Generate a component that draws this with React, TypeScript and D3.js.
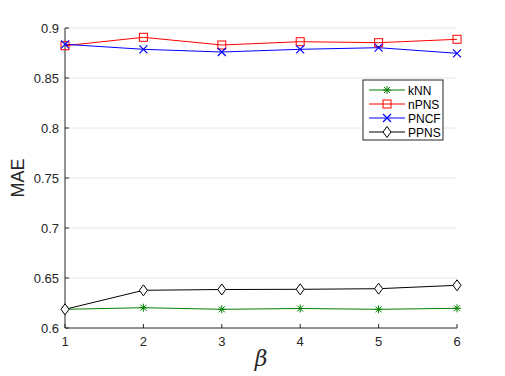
import React, { useEffect, useRef } from 'react'
import * as d3 from 'd3'

const betas = [1, 2, 3, 4, 5, 6]
const knn = [0.6187, 0.6203, 0.6187, 0.6195, 0.6187, 0.6197]
const npns = [0.8823, 0.8907, 0.883, 0.8863, 0.8853, 0.8887]
const pncf = [0.8837, 0.8787, 0.876, 0.8787, 0.8803, 0.8747]
const ppns = [0.6187, 0.6377, 0.6385, 0.6387, 0.6393, 0.6427]
const yTicks = [0.6, 0.65, 0.7, 0.75, 0.8, 0.85, 0.9]
const yTickLabels = ['0.6', '0.65', '0.7', '0.75', '0.8', '0.85', '0.9']

const series = [
  { name: 'kNN', values: knn, color: '#008000', marker: 'star' },
  { name: 'nPNS', values: npns, color: '#ff0000', marker: 'square' },
  { name: 'PNCF', values: pncf, color: '#0000ff', marker: 'x' },
  { name: 'PPNS', values: ppns, color: '#000000', marker: 'diamond' },
]

const W = 505
const H = 376

function drawMarker(g: any, type: string, x: number, y: number, color: string) {
  if (type === 'square') {
    g.append('rect').attr('x', x - 4).attr('y', y - 4).attr('width', 8).attr('height', 8)
      .attr('fill', 'none').attr('stroke', color).attr('stroke-width', 1)
  } else if (type === 'x') {
    g.append('path').attr('d', `M${x - 4},${y - 4}L${x + 4},${y + 4}M${x - 4},${y + 4}L${x + 4},${y - 4}`)
      .attr('stroke', color).attr('stroke-width', 1.2)
  } else if (type === 'diamond') {
    g.append('path').attr('d', `M${x},${y - 5.5}L${x + 4},${y}L${x},${y + 5.5}L${x - 4},${y}Z`)
      .attr('fill', 'white').attr('stroke', color).attr('stroke-width', 1)
  } else {
    g.append('path').attr('d', `M${x - 4},${y}L${x + 4},${y}M${x},${y - 4}L${x},${y + 4}M${x - 3},${y - 3}L${x + 3},${y + 3}M${x - 3},${y + 3}L${x + 3},${y - 3}`)
      .attr('stroke', color).attr('stroke-width', 1)
  }
}

export default function App() {
  const svgRef = useRef<SVGSVGElement>(null)

  useEffect(() => {
    const svg = d3.select(svgRef.current)
    svg.selectAll('*').remove()

    const x = d3.scaleLinear().domain([1, 6]).range([65, 457])
    const y = d3.scaleLinear().domain([0.6, 0.9]).range([328, 28])
    const font = 'Liberation Sans, Arial, sans-serif'

    // grid
    svg.append('g').selectAll('line').data(yTicks.slice(1)).enter().append('line')
      .attr('x1', x(1)).attr('x2', x(6))
      .attr('y1', d => y(d)).attr('y2', d => y(d))
      .attr('stroke', '#e6e6e6').attr('stroke-width', 1)

    // axes
    svg.append('line').attr('x1', x(1)).attr('x2', x(6)).attr('y1', y(0.6)).attr('y2', y(0.6))
      .attr('stroke', '#262626').attr('stroke-width', 1)
    svg.append('line').attr('x1', x(1)).attr('x2', x(1)).attr('y1', y(0.6)).attr('y2', y(0.9))
      .attr('stroke', '#262626').attr('stroke-width', 1)

    svg.append('g').selectAll('line').data(betas).enter().append('line')
      .attr('x1', d => x(d)).attr('x2', d => x(d))
      .attr('y1', y(0.6)).attr('y2', y(0.6) - 4)
      .attr('stroke', '#262626')
    svg.append('g').selectAll('line').data(yTicks).enter().append('line')
      .attr('x1', x(1)).attr('x2', x(1) + 4)
      .attr('y1', d => y(d)).attr('y2', d => y(d))
      .attr('stroke', '#262626')

    svg.append('g').selectAll('text').data(betas).enter().append('text')
      .attr('x', d => x(d)).attr('y', y(0.6) + 18)
      .attr('text-anchor', 'middle').attr('font-family', font).attr('font-size', 13)
      .attr('fill', '#262626').text(d => d)
    svg.append('g').selectAll('text').data(yTicks).enter().append('text')
      .attr('x', x(1) - 6).attr('y', d => y(d) + 4.5)
      .attr('text-anchor', 'end').attr('font-family', font).attr('font-size', 13)
      .attr('fill', '#262626').text((d, i) => yTickLabels[i])

    svg.append('text').attr('transform', `translate(24,${(y(0.6) + y(0.9)) / 2}) rotate(-90)`)
      .attr('text-anchor', 'middle').attr('font-family', font).attr('font-size', 18)
      .attr('fill', '#262626').text('MAE')
    svg.append('text').attr('x', (x(1) + x(6)) / 2).attr('y', 366)
      .attr('text-anchor', 'middle').attr('font-family', 'DejaVu Serif, serif').attr('font-style', 'italic')
      .attr('font-size', 22).attr('fill', '#262626').text('β')

    const line = d3.line<number>().x((d, i) => x(betas[i])).y(d => y(d))
    series.forEach(s => {
      svg.append('path').datum(s.values).attr('d', line).attr('fill', 'none')
        .attr('stroke', s.color).attr('stroke-width', 1)
    })
    series.forEach(s => {
      const g = svg.append('g')
      s.values.forEach((v, i) => drawMarker(g, s.marker, x(betas[i]), y(v), s.color))
    })

    // legend
    const lg = svg.append('g').attr('transform', 'translate(363,80)')
    lg.append('rect').attr('width', 80).attr('height', 60).attr('fill', 'white')
      .attr('stroke', '#262626').attr('stroke-width', 1)
    series.forEach((s, i) => {
      const ly = 10 + i * 14
      lg.append('line').attr('x1', 6).attr('x2', 42).attr('y1', ly).attr('y2', ly)
        .attr('stroke', s.color).attr('stroke-width', 1)
      drawMarker(lg, s.marker, 24, ly, s.color)
      lg.append('text').attr('x', 45).attr('y', ly + 4.5).attr('font-family', font)
        .attr('font-size', 12).attr('fill', '#000').text(s.name)
    })
  }, [])

  return <svg ref={svgRef} width={W} height={H} style={{ position: 'absolute', left: 0, top: 0 }} />
}
